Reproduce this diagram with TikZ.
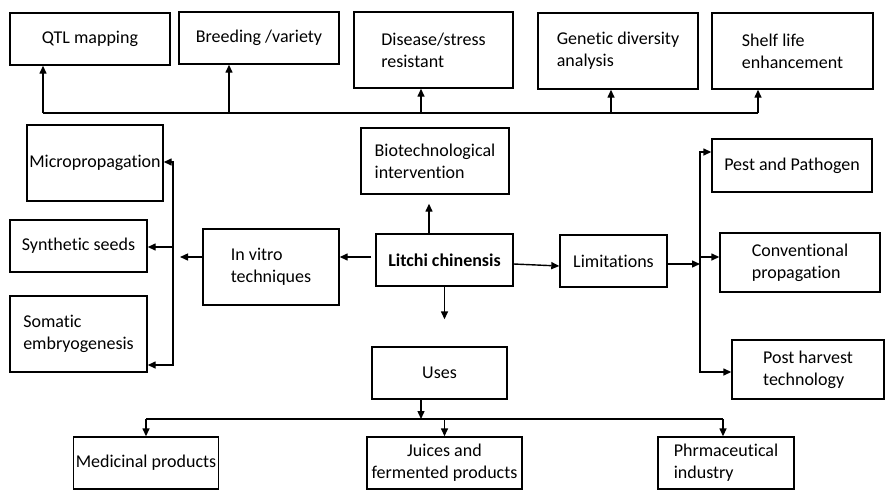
\documentclass[tikz,border=0pt]{standalone}
\usepackage{fontspec}
\setmainfont[Ligatures=NoCommon]{Carlito}
\usetikzlibrary{arrows.meta}

\begin{document}
\begin{tikzpicture}[x=1pt,y=-1pt,line width=1.4pt,
  box/.style={draw,rectangle,align=left,inner sep=2pt,font=\fontsize{18}{22}\selectfont},
  arr/.style={-{Triangle[length=8pt,width=7pt]}}]

\useasboundingbox (0,0) rectangle (885,490);

% Top row
\node[box,minimum width=160pt,minimum height=52pt] (qtl) at (90,39) {QTL mapping};
\node[box,minimum width=160pt,minimum height=52pt] (breed) at (259,38) {Breeding /variety};
\node[box,minimum width=159pt,minimum height=76pt] (disease) at (433.5,50) {Disease/stress\\resistant};
\node[box,minimum width=160pt,minimum height=76pt] (genetic) at (618,51) {Genetic diversity\\analysis};
\node[box,minimum width=161pt,minimum height=76pt] (shelf) at (792.5,51) {Shelf life\\enhancement};

% Middle row
\node[box,minimum width=148pt,minimum height=66pt] (bio) at (435,161) {Biotechnological\\intervention};
\node[box,font=\fontsize{18}{22}\selectfont\bfseries,minimum width=137pt,minimum height=52pt] (litchi) at (444.5,260) {Litchi chinensis};
\node[box,minimum width=136pt,minimum height=76pt] (invitro) at (271,267) {In vitro\\techniques};
\node[box,minimum width=107pt,minimum height=52pt] (limit) at (613.5,261) {Limitations};
\node[box,minimum width=135pt,minimum height=52pt] (uses) at (439.5,373) {Uses};

% Left column
\node[box,minimum width=136pt,minimum height=76pt] (micro) at (95,163) {Micropropagation};
\node[box,minimum width=137pt,minimum height=52pt] (synth) at (78.5,246) {Synthetic seeds};
\node[box,minimum width=137pt,minimum height=76pt] (somatic) at (78.5,334) {Somatic\\embryogenesis};

% Right column
\node[box,minimum width=160pt,minimum height=53pt] (pest) at (792,165.5) {Pest and Pathogen};
\node[box,minimum width=160pt,minimum height=59pt] (conv) at (800,262.5) {Conventional\\propagation};
\node[box,minimum width=152pt,minimum height=59pt] (post) at (808,369.5) {Post harvest\\technology};

% Bottom row
\node[box,minimum width=140pt,minimum height=52pt] (medic) at (146,463) {Medicinal products};
\node[box,align=center,minimum width=155pt,minimum height=52pt] (juices) at (444.5,463) {Juices and\\fermented products};
\node[box,minimum width=136pt,minimum height=52pt] (pharm) at (726,463) {Phrmaceutical\\industry};

% Top bus
\coordinate (b1) at (43,113);
\coordinate (b2) at (229,113);
\coordinate (b3) at (421,113);
\coordinate (b4) at (611,113);
\coordinate (b5) at (758,113);
\draw (b1) -- (b5);
\draw[arr] (b1) -- (b1 |- qtl.south);
\draw[arr] (b2) -- (b2 |- breed.south);
\draw[arr] (b3) -- (b3 |- disease.south);
\draw[arr] (b4) -- (b4 |- genetic.south);
\draw[arr] (b5) -- (b5 |- shelf.south);

% From Litchi
\draw[arr,shorten >=9pt] ([xshift=-15.5pt]litchi.north) -- ([xshift=-15.5pt]litchi.north |- bio.south);
\draw[arr,shorten >=27pt] (litchi.south) -- (litchi.south |- uses.north);
\draw[arr,shorten <=4pt] ([yshift=3pt]litchi.west) -- ([yshift=3pt]litchi.west -| invitro.east);
\draw[arr] ([yshift=-4pt]litchi.east) -- ([yshift=-5pt]limit.west);

% In vitro branch
\coordinate (ivl) at (180,257);
\coordinate (vtop) at (173,162);
\coordinate (vmid) at (173,247);
\coordinate (vbot) at (173,365);
\draw[arr] ([yshift=10pt]invitro.west) -- (ivl);
\draw[arr] (vbot) -- (vtop) -- (micro.east |- vtop);
\draw[arr] (vtop) -- (vbot) -- (somatic.east |- vbot);
\draw[arr] (vmid) -- (synth.east |- vmid);

% Limitations branch
\coordinate (rmid) at (700,264);
\coordinate (rtop) at (700,152);
\coordinate (rconv) at (700,257);
\coordinate (rbot) at (700,372);
\draw[arr] ([yshift=-3pt]limit.east) -- (rmid);
\draw[arr] (rbot) -- (rtop) -- (pest.west |- rtop);
\draw[arr] (rtop) -- (rbot) -- (post.west |- rbot);
\draw[arr] (rconv) -- (conv.west |- rconv);

% Uses branch
\coordinate (u0) at (421,419);
\coordinate (u1) at (146,419);
\coordinate (u2) at (444.5,419);
\coordinate (u3) at (723,419);
\draw[arr] (uses.south -| u0) -- (u0);
\draw (u1) -- (u3);
\draw[arr] (u1) -- (u1 |- medic.north);
\draw[arr] (u2) -- (u2 |- juices.north);
\draw[arr] (u3) -- (u3 |- pharm.north);

\end{tikzpicture}
\end{document}
